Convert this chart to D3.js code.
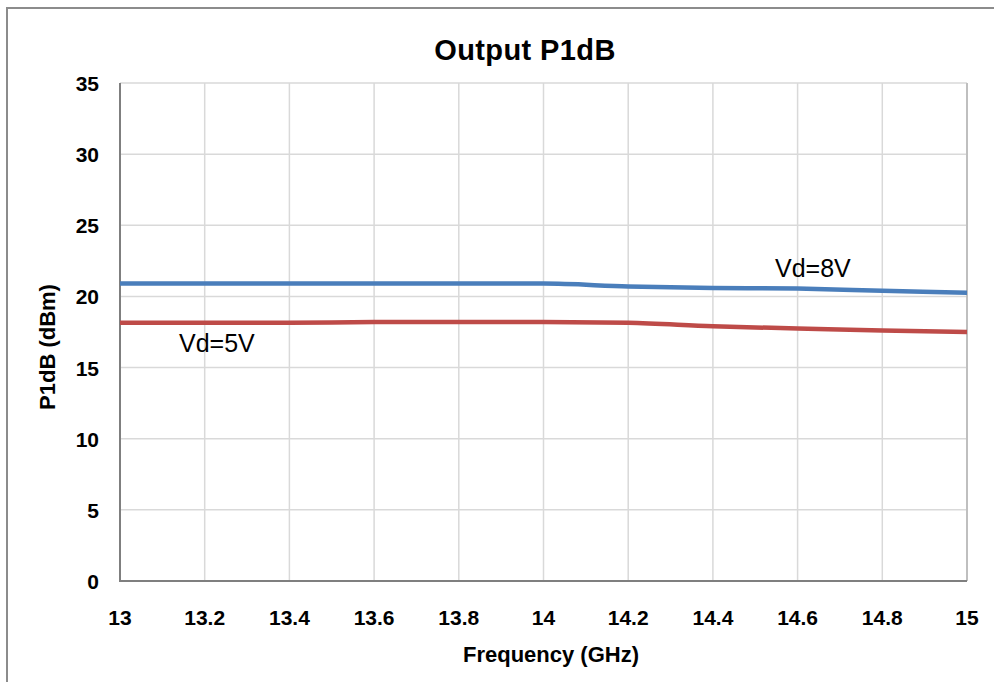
<!DOCTYPE html>
<html>
<head>
<meta charset="utf-8">
<script src="https://cdn.jsdelivr.net/npm/d3@7"></script>
<style>
  body { margin: 0; background: #fff; }
  text { font-family: "Liberation Sans", Arial, sans-serif; }
</style>
</head>
<body>
<script>
(function() {

	var width = 994,
		height = 682;

	// data
	var freqs = [13, 13.2, 13.4, 13.6, 13.8, 14, 14.2, 14.4, 14.6, 14.8, 15];
	var vd8 = [20.9, 20.9, 20.9, 20.9, 20.9, 20.9, 20.7, 20.6, 20.55, 20.4, 20.25];
	var vd5 = [18.15, 18.15, 18.15, 18.2, 18.2, 18.2, 18.15, 17.9, 17.75, 17.6, 17.5];
	var xTicks = [13, 13.2, 13.4, 13.6, 13.8, 14, 14.2, 14.4, 14.6, 14.8, 15];
	var yTicks = [0, 5, 10, 15, 20, 25, 30, 35];

	var blue = "#4a7ebb",
		red = "#be4b48",
		gridColor = "#d9d9d9";

	var plot = {left: 120, right: 967, top: 83, bottom: 581};

	var svg = d3.select("body").append("svg")
		.attr("width", width)
		.attr("height", height);

	var x = d3.scaleLinear().domain([13, 15]).range([plot.left, plot.right]);
	var y = d3.scaleLinear().domain([0, 35]).range([plot.bottom, plot.top]);

	// outer frame
	svg.append("path")
		.attr("d", "M7,682 L7,8 L994,8")
		.attr("fill", "none")
		.attr("stroke", "#8c8c8c")
		.attr("stroke-width", 2);

	// grid
	svg.append("g").selectAll("line")
		.data(xTicks.slice(1))
		.enter().append("line")
		.attr("x1", function(d) { return x(d); })
		.attr("x2", function(d) { return x(d); })
		.attr("y1", plot.top)
		.attr("y2", plot.bottom)
		.attr("stroke", gridColor)
		.attr("stroke-width", 1.5);

	svg.append("g").selectAll("line")
		.data(yTicks.slice(1))
		.enter().append("line")
		.attr("x1", plot.left)
		.attr("x2", plot.right)
		.attr("y1", function(d) { return y(d); })
		.attr("y2", function(d) { return y(d); })
		.attr("stroke", gridColor)
		.attr("stroke-width", 1.5);

	// right edge of plot area a bit darker
	svg.append("line")
		.attr("x1", plot.right).attr("x2", plot.right)
		.attr("y1", plot.top).attr("y2", plot.bottom)
		.attr("stroke", "#bfbfbf").attr("stroke-width", 2);

	// axes lines
	svg.append("path")
		.attr("d", "M" + plot.left + "," + plot.top + " L" + plot.left + "," + plot.bottom + " L" + plot.right + "," + plot.bottom)
		.attr("fill", "none")
		.attr("stroke", "#7f7f7f")
		.attr("stroke-width", 2);

	// tick labels
	svg.append("g").selectAll("text")
		.data(yTicks)
		.enter().append("text")
		.attr("x", 99)
		.attr("y", function(d) { return y(d) + 8; })
		.attr("text-anchor", "end")
		.attr("font-size", 21)
		.attr("font-weight", "bold")
		.attr("fill", "#000")
		.text(function(d) { return d; });

	svg.append("g").selectAll("text")
		.data(xTicks)
		.enter().append("text")
		.attr("x", function(d) { return x(d); })
		.attr("y", 625)
		.attr("text-anchor", "middle")
		.attr("font-size", 21)
		.attr("font-weight", "bold")
		.attr("fill", "#000")
		.text(function(d) { return d; });

	// titles
	svg.append("text")
		.attr("x", 525)
		.attr("y", 60)
		.attr("text-anchor", "middle")
		.attr("font-size", 29)
		.attr("font-weight", "bold")
		.attr("letter-spacing", 0.4)
		.text("Output P1dB");

	svg.append("text")
		.attr("x", 551)
		.attr("y", 662)
		.attr("text-anchor", "middle")
		.attr("font-size", 22)
		.attr("font-weight", "bold")
		.text("Frequency (GHz)");

	svg.append("text")
		.attr("transform", "translate(55,347) rotate(-90)")
		.attr("text-anchor", "middle")
		.attr("font-size", 22)
		.attr("font-weight", "bold")
		.text("P1dB (dBm)");

	// series
	var line = d3.line()
		.x(function(d) { return x(d[0]); })
		.y(function(d) { return y(d[1]); })
		.curve(d3.curveMonotoneX);

	svg.append("path")
		.datum(d3.zip(freqs, vd8))
		.attr("d", line)
		.attr("fill", "none")
		.attr("stroke", blue)
		.attr("stroke-width", 4.5);

	svg.append("path")
		.datum(d3.zip(freqs, vd5))
		.attr("d", line)
		.attr("fill", "none")
		.attr("stroke", red)
		.attr("stroke-width", 4.5);

	// series labels
	svg.append("text")
		.attr("x", 775)
		.attr("y", 277)
		.attr("font-size", 25)
		.text("Vd=8V");

	svg.append("text")
		.attr("x", 179)
		.attr("y", 352)
		.attr("font-size", 25)
		.text("Vd=5V");

})();
</script>
</body>
</html>
